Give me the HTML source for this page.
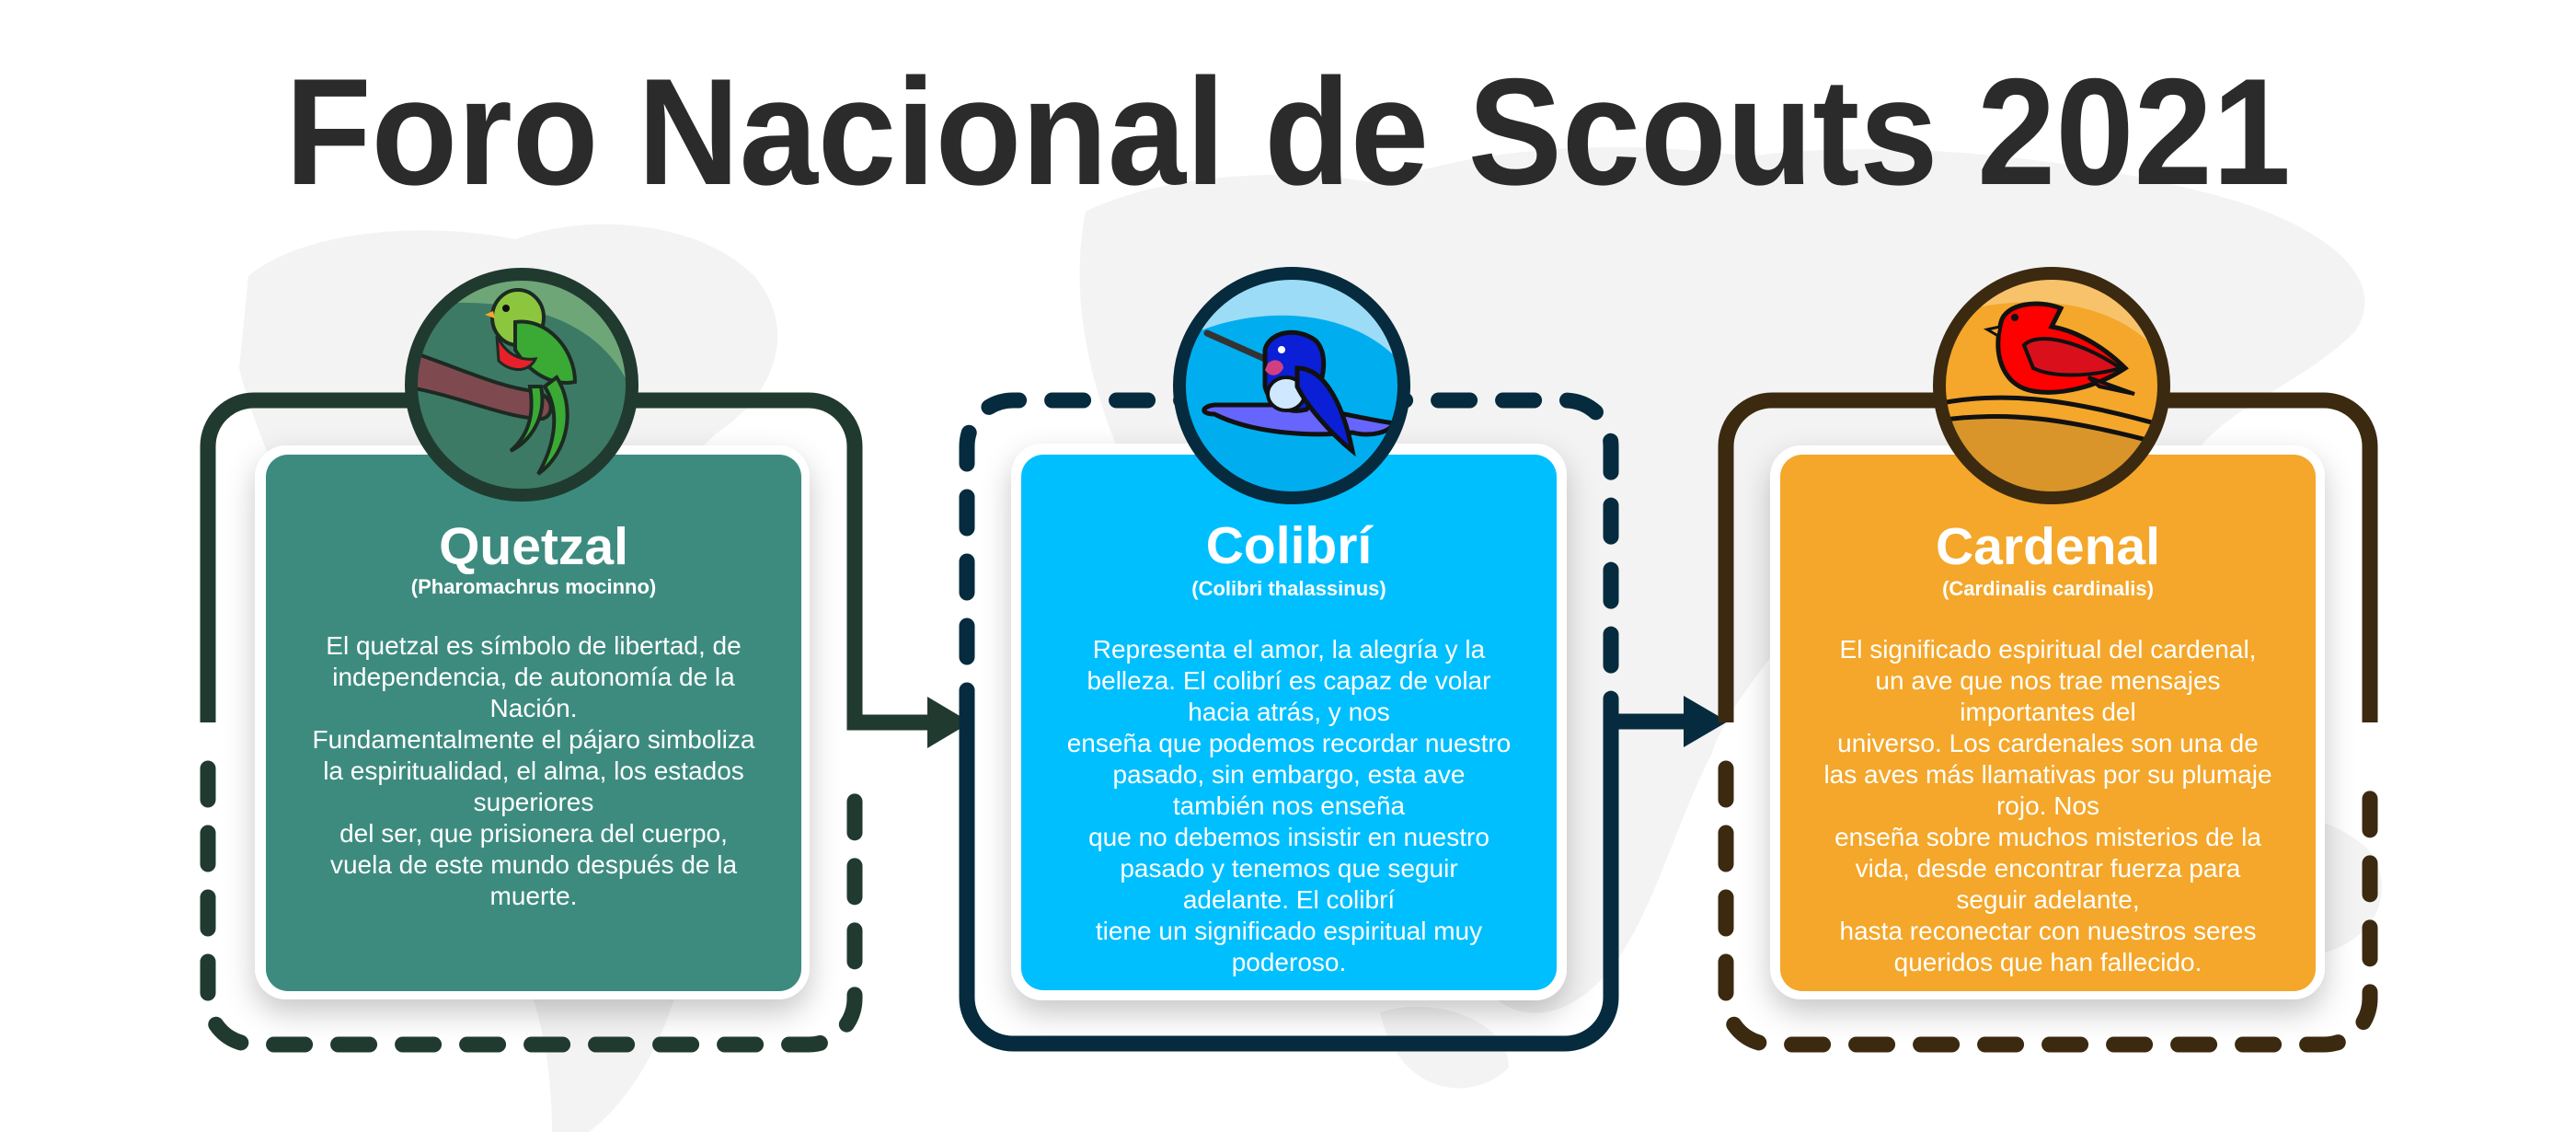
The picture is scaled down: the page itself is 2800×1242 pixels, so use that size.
<!DOCTYPE html>
<html><head><meta charset="utf-8"><style>
html,body{margin:0;padding:0;background:#fff;}
svg{display:block;}
text{font-family:"Liberation Sans",sans-serif;}
</style></head><body>
<svg width="2800" height="1242" viewBox="0 0 2800 1242" xmlns="http://www.w3.org/2000/svg">
<defs>
<filter id="sh" x="-20%" y="-20%" width="140%" height="140%"><feDropShadow dx="0" dy="14" stdDeviation="16" flood-color="#000" flood-opacity="0.22"/></filter>
<clipPath id="c1"><circle cx="567" cy="418" r="120"/></clipPath>
<clipPath id="c2"><circle cx="1404" cy="419" r="122"/></clipPath>
<clipPath id="c3"><circle cx="2230" cy="419" r="122"/></clipPath>
</defs>
<rect width="2800" height="1242" fill="#fff"/>
<g fill="#f3f3f3">
<path d="M270,300 C330,250 460,240 560,260 C640,230 760,240 820,300 C870,360 840,430 780,470 C720,520 700,600 640,640 C600,700 640,760 700,800 C760,860 780,960 740,1060 C720,1140 680,1200 640,1230 L600,1230 C600,1140 580,1060 540,1000 C500,940 470,880 500,820 C460,760 400,700 360,640 C320,560 280,480 260,400 Z"/>
<path d="M1180,230 C1260,190 1400,180 1500,200 C1600,160 1760,150 1900,170 C2050,150 2250,170 2400,210 C2520,240 2600,300 2560,360 C2500,420 2420,440 2380,500 C2340,560 2300,620 2240,640 C2200,700 2160,760 2120,800 C2060,760 2000,700 1980,640 C1940,700 1880,760 1860,820 C1820,900 1800,980 1760,1040 C1720,1100 1660,1120 1620,1080 C1580,1000 1560,900 1500,840 C1440,800 1380,760 1340,700 C1300,640 1260,560 1220,500 C1190,430 1160,330 1180,230 Z"/>
<path d="M2380,900 C2440,870 2540,880 2580,930 C2610,990 2560,1040 2490,1040 C2430,1040 2380,990 2380,900 Z"/>
<path d="M1500,1100 C1560,1080 1640,1110 1640,1160 C1600,1200 1520,1190 1500,1100 Z"/>
</g>

<text x="1400" y="200" text-anchor="middle" font-size="165" font-weight="bold" fill="#2b2b2b" textLength="2180" lengthAdjust="spacingAndGlyphs">Foro Nacional de Scouts 2021</text>

<g fill="none" stroke="#213a30" stroke-width="17" stroke-linecap="round">
<path d="M226,785 V485 A50,50 0 0 1 276,435 H879 A50,50 0 0 1 929,485 V785 H1020" stroke-linecap="butt"/>
<path d="M226,835 V1085 A50,50 0 0 0 276,1135 H879 A50,50 0 0 0 929,1085 V835" stroke-dasharray="34 36"/>
</g>
<polygon points="1008,757 1055,785 1008,813" fill="#213a30"/>

<g fill="none" stroke="#062b3e" stroke-width="17" stroke-linecap="round">
<path d="M1051,784 V485 A50,50 0 0 1 1101,435 H1701 A50,50 0 0 1 1751,485 V784" stroke-dasharray="34 36"/>
<path d="M1051,784 V1084 A50,50 0 0 0 1101,1134 H1701 A50,50 0 0 0 1751,1084 V784 H1845" stroke-linecap="butt"/>
</g>
<polygon points="1830,756 1878,784 1830,812" fill="#062b3e"/>

<g fill="none" stroke="#3b2a10" stroke-width="17" stroke-linecap="round">
<path d="M1876,785 V485 A50,50 0 0 1 1926,435 H2526 A50,50 0 0 1 2576,485 V785" stroke-linecap="butt"/>
<path d="M1876,835 V1085 A50,50 0 0 0 1926,1135 H2526 A50,50 0 0 0 2576,1085 V835" stroke-dasharray="34 36"/>
</g>

<rect x="277" y="484" width="603" height="602" rx="34" fill="#fff" filter="url(#sh)"/>
<rect x="289" y="494" width="582" height="583" rx="24" fill="#3d8b7f"/>
<rect x="1099" y="482" width="604" height="605" rx="34" fill="#fff" filter="url(#sh)"/>
<rect x="1110" y="494" width="582" height="582" rx="24" fill="#00bfff"/>
<rect x="1924" y="484" width="603" height="602" rx="34" fill="#fff" filter="url(#sh)"/>
<rect x="1935" y="494" width="582" height="583" rx="24" fill="#f4a72a"/>

<g clip-path="url(#c1)">
<circle cx="567" cy="418" r="120" fill="#3d7a66"/>
<path d="M470,300 L700,300 L700,480 C690,380 620,320 470,330 Z" fill="#6fa678"/>
<path d="M440,380 C500,400 540,420 580,425 C600,428 605,450 590,455 C550,455 500,430 440,420 Z" fill="#7e4a4f" stroke="#1c2a22" stroke-width="4"/>
<ellipse cx="563" cy="345" rx="28" ry="30" fill="#8cc63f" stroke="#1c2a22" stroke-width="4"/>
<path d="M560,350 C595,345 625,380 625,415 C600,420 575,405 560,380 Z" fill="#3aaa35" stroke="#1c2a22" stroke-width="4"/>
<path d="M540,365 C550,385 565,392 582,390 C575,405 555,405 542,392 Z" fill="#e8202a" stroke="#1c2a22" stroke-width="3"/>
<path d="M605,410 C625,440 620,490 585,515 C605,480 608,445 592,420 Z" fill="#3aaa35" stroke="#1c2a22" stroke-width="4"/>
<path d="M588,420 C595,455 575,480 555,490 C578,470 580,445 576,420 Z" fill="#3aaa35" stroke="#1c2a22" stroke-width="4"/>
<circle cx="550" cy="335" r="4" fill="#111"/>
<path d="M536,338 L527,342 L538,346 Z" fill="#f4a72a"/>
</g>
<circle cx="567" cy="418" r="120" fill="none" stroke="#213a30" stroke-width="14"/>

<g clip-path="url(#c2)">
<circle cx="1404" cy="419" r="122" fill="#00aeef"/>
<path d="M1270,280 L1540,280 L1540,420 C1500,340 1380,320 1280,370 Z" fill="#9ddcf6"/>
<path d="M1320,450 C1360,470 1420,475 1470,470 C1490,475 1510,470 1515,460 C1480,455 1420,440 1400,440 L1320,440 C1305,442 1305,450 1320,450 Z" fill="#6666ff" stroke="#111" stroke-width="5"/>
<line x1="1312" y1="362" x2="1375" y2="390" stroke="#333" stroke-width="7" stroke-linecap="round"/>
<path d="M1375,380 C1380,360 1410,355 1430,370 C1445,385 1440,420 1420,445 C1400,450 1380,440 1375,420 Z" fill="#0a1fd6" stroke="#111" stroke-width="5"/>
<path d="M1378,395 C1385,388 1395,392 1395,400 C1390,410 1380,410 1375,402 Z" fill="#d04080"/>
<ellipse cx="1398" cy="428" rx="20" ry="18" fill="#cfe8ff" stroke="#111" stroke-width="4"/>
<path d="M1410,400 C1440,400 1460,440 1470,490 C1445,470 1420,440 1410,420 Z" fill="#0a1fd6" stroke="#111" stroke-width="5"/>
<circle cx="1393" cy="380" r="4" fill="#fff"/>
</g>
<circle cx="1404" cy="419" r="122" fill="none" stroke="#062b3e" stroke-width="14"/>

<g clip-path="url(#c3)">
<circle cx="2230" cy="419" r="122" fill="#f4a72a"/>
<path d="M2100,280 L2360,280 L2360,400 C2320,340 2240,310 2120,340 Z" fill="#f8c26a"/>
<path d="M2100,460 C2180,440 2260,450 2360,490 L2360,560 L2100,560 Z" fill="#d9952a"/>
<path d="M2100,440 C2170,425 2240,430 2360,465" fill="none" stroke="#111" stroke-width="5"/>
<path d="M2100,458 C2180,445 2250,455 2360,485" fill="none" stroke="#111" stroke-width="5"/>
<path d="M2175,350 C2180,330 2215,325 2240,335 L2230,355 C2260,360 2290,380 2310,400 C2280,420 2240,430 2210,425 C2180,420 2165,390 2175,350 Z" fill="#ff0000" stroke="#111" stroke-width="5"/>
<path d="M2200,375 C2215,360 2260,370 2305,400 C2270,410 2230,410 2210,400 Z" fill="#d9101b" stroke="#111" stroke-width="4"/>
<path d="M2270,410 L2320,428 L2282,420 Z" fill="#e30613" stroke="#111" stroke-width="4"/>
<path d="M2174,355 L2160,358 L2172,365 Z" fill="#f4a72a" stroke="#111" stroke-width="3"/>
<circle cx="2190" cy="345" r="4" fill="#111"/>
</g>
<circle cx="2230" cy="419" r="122" fill="none" stroke="#3b2a10" stroke-width="14"/>

<g fill="#fff" text-anchor="middle">
<text x="580" y="613" font-size="57" font-weight="bold">Quetzal</text>
<text x="580" y="645" font-size="22" font-weight="bold">(Pharomachrus mocinno)</text>
<g font-size="28">
<text x="580" y="711">El quetzal es símbolo de libertad, de</text>
<text x="580" y="745">independencia, de autonomía de la</text>
<text x="580" y="779">Nación.</text>
<text x="580" y="813">Fundamentalmente el pájaro simboliza</text>
<text x="580" y="847">la espiritualidad, el alma, los estados</text>
<text x="580" y="881">superiores</text>
<text x="580" y="915">del ser, que prisionera del cuerpo,</text>
<text x="580" y="949">vuela de este mundo después de la</text>
<text x="580" y="983">muerte.</text>
</g>

<text x="1401" y="612" font-size="57" font-weight="bold">Colibrí</text>
<text x="1401" y="647" font-size="22" font-weight="bold">(Colibri thalassinus)</text>
<g font-size="28">
<text x="1401" y="715">Representa el amor, la alegría y la</text>
<text x="1401" y="749">belleza. El colibrí es capaz de volar</text>
<text x="1401" y="783">hacia atrás, y nos</text>
<text x="1401" y="817">enseña que podemos recordar nuestro</text>
<text x="1401" y="851">pasado, sin embargo, esta ave</text>
<text x="1401" y="885">también nos enseña</text>
<text x="1401" y="919">que no debemos insistir en nuestro</text>
<text x="1401" y="953">pasado y tenemos que seguir</text>
<text x="1401" y="987">adelante. El colibrí</text>
<text x="1401" y="1021">tiene un significado espiritual muy</text>
<text x="1401" y="1055">poderoso.</text>
</g>

<text x="2226" y="613" font-size="57" font-weight="bold">Cardenal</text>
<text x="2226" y="647" font-size="22" font-weight="bold">(Cardinalis cardinalis)</text>
<g font-size="28">
<text x="2226" y="715">El significado espiritual del cardenal,</text>
<text x="2226" y="749">un ave que nos trae mensajes</text>
<text x="2226" y="783">importantes del</text>
<text x="2226" y="817">universo. Los cardenales son una de</text>
<text x="2226" y="851">las aves más llamativas por su plumaje</text>
<text x="2226" y="885">rojo. Nos</text>
<text x="2226" y="919">enseña sobre muchos misterios de la</text>
<text x="2226" y="953">vida, desde encontrar fuerza para</text>
<text x="2226" y="987">seguir adelante,</text>
<text x="2226" y="1021">hasta reconectar con nuestros seres</text>
<text x="2226" y="1055">queridos que han fallecido.</text>
</g>
</g>
</svg>
</body></html>
